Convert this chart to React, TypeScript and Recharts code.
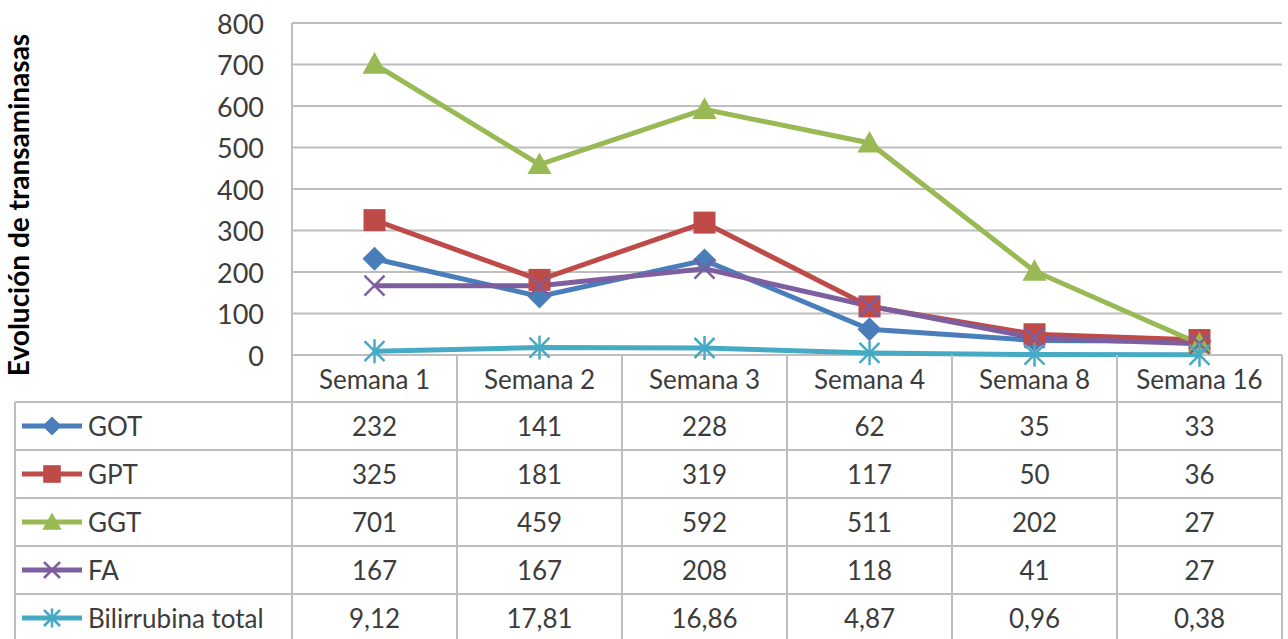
import React from 'react'
import { CartesianGrid, Line, LineChart, XAxis, YAxis } from 'recharts'

const categories = ['Semana 1', 'Semana 2', 'Semana 3', 'Semana 4', 'Semana 8', 'Semana 16']
const got = [232, 141, 228, 62, 35, 33]
const gpt = [325, 181, 319, 117, 50, 36]
const ggt = [701, 459, 592, 511, 202, 27]
const fa = [167, 167, 208, 118, 41, 27]
const bilirrubina = [9.12, 17.81, 16.86, 4.87, 0.96, 0.38]
const yTicks = [0, 100, 200, 300, 400, 500, 600, 700, 800]

const series = [
  { key: 'GOT', label: 'GOT', color: '#4A7EBB', shape: 'diamond', values: got },
  { key: 'GPT', label: 'GPT', color: '#BE4B48', shape: 'square', values: gpt },
  { key: 'GGT', label: 'GGT', color: '#98B954', shape: 'triangle', values: ggt },
  { key: 'FA', label: 'FA', color: '#7D5FA0', shape: 'x', values: fa },
  { key: 'BIL', label: 'Bilirrubina total', color: '#46AAC5', shape: 'star', values: bilirrubina },
]

const data = categories.map((name, i) => {
  const row: any = { name }
  series.forEach(s => { row[s.key] = s.values[i] })
  return row
})

const fmt = (v: number) => (Number.isInteger(v) ? String(v) : v.toFixed(2).replace('.', ','))

// layout
const W = 1288
const H = 639
const PLOT_LEFT = 292
const PLOT_RIGHT = 1282
const PLOT_TOP = 23
const PLOT_BOTTOM = 355
const COL_W = (PLOT_RIGHT - PLOT_LEFT) / categories.length
const HEADER_H = 47
const ROW_H = 48
const TABLE_LEFT = 15
const FONT = 'Lato, "Open Sans", sans-serif'
const TEXT = '#3C3C3C'
const GRID = '#BEBEBE'
const FS = 26

const Marker = ({ shape, color, cx, cy, s = 1 }: any) => {
  if (cx == null || cy == null) return null
  if (shape === 'diamond') {
    const r = 12 * s
    return <polygon points={`${cx},${cy - r} ${cx + r},${cy} ${cx},${cy + r} ${cx - r},${cy}`} fill={color} />
  }
  if (shape === 'square') {
    const r = 11 * s
    return <rect x={cx - r} y={cy - r} width={r * 2} height={r * 2} fill={color} />
  }
  if (shape === 'triangle') {
    const r = 12 * s
    return <polygon points={`${cx},${cy - r} ${cx + r},${cy + r * 0.8} ${cx - r},${cy + r * 0.8}`} fill={color} />
  }
  const r = 10 * s
  return (
    <g stroke={color} strokeWidth={2.5}>
      <line x1={cx - r} y1={cy - r} x2={cx + r} y2={cy + r} />
      <line x1={cx - r} y1={cy + r} x2={cx + r} y2={cy - r} />
      {shape === 'star' && <line x1={cx} y1={cy - r * 1.2} x2={cx} y2={cy + r * 1.2} />}
    </g>
  )
}

const YTick = ({ y, payload }: any) => (
  <text x={PLOT_LEFT - 28} y={y} textAnchor="end" dominantBaseline="central" fontSize={27} fill={TEXT} fontFamily={FONT}>
    {payload.value}
  </text>
)

// the data table below the plot, one column per category tick
const TableTick = ({ x, payload, index }: any) => {
  const top = PLOT_BOTTOM
  const left = x - COL_W / 2
  const right = x + COL_W / 2
  const rowTop = (r: number) => top + HEADER_H + r * ROW_H
  return (
    <g fontFamily={FONT} fontSize={FS} fill={TEXT}>
      {index === 0 && (
        <g>
          <line x1={left} y1={PLOT_BOTTOM} x2={left} y2={H} stroke={GRID} strokeWidth={2} />
          <line x1={TABLE_LEFT} y1={rowTop(0)} x2={TABLE_LEFT} y2={H} stroke={GRID} strokeWidth={2} />
          {series.map((s, r) => (
            <g key={s.key}>
              <line x1={TABLE_LEFT} y1={rowTop(r)} x2={left} y2={rowTop(r)} stroke={GRID} strokeWidth={2} />
              <line x1={22} y1={rowTop(r) + ROW_H / 2} x2={82} y2={rowTop(r) + ROW_H / 2} stroke={s.color} strokeWidth={5} />
              <Marker shape={s.shape} color={s.color} cx={52} cy={rowTop(r) + ROW_H / 2} s={0.8} />
              <text x={88} y={rowTop(r) + ROW_H / 2} dominantBaseline="central" fill={TEXT}>{s.label}</text>
            </g>
          ))}
        </g>
      )}
      <line x1={right} y1={top} x2={right} y2={H} stroke={GRID} strokeWidth={2} />
      <text x={x} y={top + HEADER_H / 2} textAnchor="middle" dominantBaseline="central" fill={TEXT}>{payload.value}</text>
      {series.map((s, r) => (
        <g key={s.key}>
          <line x1={left} y1={rowTop(r)} x2={right} y2={rowTop(r)} stroke={GRID} strokeWidth={2} />
          <text x={x} y={rowTop(r) + ROW_H / 2} textAnchor="middle" dominantBaseline="central" fill={TEXT}>
            {fmt(s.values[index])}
          </text>
        </g>
      ))}
    </g>
  )
}

const App = () => {
  return (
    <div style={{ position: 'absolute', left: 0, top: 0, width: W, height: H, background: '#fff' }}>
      <LineChart width={W} height={H} data={data} margin={{ top: PLOT_TOP, right: W - PLOT_RIGHT, bottom: 0, left: 0 }}>
        <CartesianGrid vertical={false} stroke={GRID} strokeWidth={2} />
        <XAxis
          dataKey="name"
          scale="band"
          height={H - PLOT_BOTTOM}
          axisLine={false}
          tickLine={false}
          tickSize={0}
          tickMargin={0}
          interval={0}
          tick={<TableTick />}
        />
        <YAxis
          width={PLOT_LEFT}
          domain={[0, 800]}
          ticks={yTicks}
          axisLine={{ stroke: GRID, strokeWidth: 2 }}
          tickLine={false}
          tick={<YTick />}
          label={{
            content: () => (
              <text
                transform="translate(18,205) rotate(-90)"
                textAnchor="middle"
                dominantBaseline="central"
                fontFamily={FONT}
                fontWeight="bold"
                fontSize={28}
                fill="#000"
              >
                Evolución de transaminasas
              </text>
            ),
          }}
        />
        {series.map(s => (
          <Line
            key={s.key}
            dataKey={s.key}
            name={s.label}
            stroke={s.color}
            strokeWidth={5}
            isAnimationActive={false}
            legendType="none"
            dot={(p: any) => <Marker key={`${s.key}-${p.index}`} shape={s.shape} color={s.color} cx={p.cx} cy={p.cy} />}
            activeDot={false}
          />
        ))}
      </LineChart>
    </div>
  )
}

export default App
